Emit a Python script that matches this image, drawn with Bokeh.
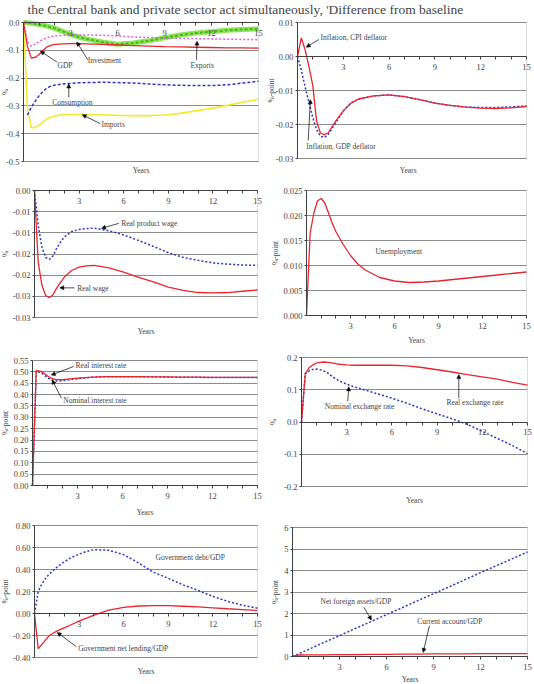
import math
from bokeh.plotting import figure
from bokeh.models import (Range1d, LinearAxis, FixedTicker, Label, Arrow, NormalHead, BoxAnnotation, Grid)
from bokeh.layouts import column, row
from bokeh.embed import file_html
from bokeh.resources import INLINE

FONT = "Liberation Serif"
RED = "#e8262e"
BLUE = "#2d36c4"
PINK = "#e25ce2"
GREEN = "#8ee456"
GREEN_D = "#45b81e"
YELLOW = "#f0ec30"
GRID = "#8c8c8c"
AXIS = "#404040"

TITLE_TEXT = "the Central bank and private sector act simultaneously, 'Difference from baseline"

# ---------------- data ----------------
years = [0, 0.25, 0.5, 0.75, 1, 1.25, 1.5, 1.75, 2, 2.5, 3, 3.5, 4, 5, 6, 7, 8, 9, 10, 11, 12, 13, 14, 15]
x_major = [3, 6, 9, 12, 15]
x_minor = [1, 2, 4, 5, 7, 8, 10, 11, 13, 14]

# Panel 1: demand components, %
gdp = [0, -0.085, -0.128, -0.125, -0.115, -0.100, -0.088, -0.082, -0.079, -0.077, -0.076, -0.076, -0.077,
       -0.079, -0.081, -0.083, -0.085, -0.087, -0.088, -0.089, -0.090, -0.091, -0.091, -0.092]
investment = [0, -0.001, -0.003, -0.005, -0.007, -0.010, -0.013, -0.017, -0.021, -0.032, -0.043, -0.052, -0.059,
              -0.070, -0.078, -0.074, -0.066, -0.055, -0.045, -0.038, -0.033, -0.028, -0.025, -0.023]
exports = [0, -0.070, -0.085, -0.078, -0.068, -0.060, -0.055, -0.051, -0.048, -0.046, -0.045, -0.045, -0.045,
           -0.046, -0.048, -0.052, -0.054, -0.055, -0.057, -0.058, -0.059, -0.060, -0.061, -0.062]
cons_years = years[1:]
consumption = [-0.333, -0.305, -0.283, -0.263, -0.247, -0.236, -0.229, -0.225, -0.221, -0.219, -0.217, -0.216,
               -0.215, -0.216, -0.218, -0.221, -0.224, -0.226, -0.227, -0.227, -0.224, -0.218, -0.211]
imports = [0, -0.310, -0.378, -0.378, -0.368, -0.357, -0.347, -0.340, -0.336, -0.332, -0.331, -0.331, -0.331,
           -0.332, -0.334, -0.335, -0.335, -0.333, -0.327, -0.318, -0.309, -0.298, -0.287, -0.276]
p1_yticks = [0.0, -0.1, -0.2, -0.3, -0.4, -0.5]
p1_ylabels = ["0.0", "-0.1", "-0.2", "-0.3", "-0.4", "-0.5"]

# Panel 2: inflation, %-point
infl_cpi = [0, 0.0055, 0.002, -0.003, -0.0085, -0.019, -0.0225, -0.023, -0.0225, -0.019, -0.016, -0.0137, -0.0125,
            -0.0116, -0.0113, -0.0118, -0.0127, -0.0137, -0.0144, -0.0149, -0.0152, -0.0153, -0.0151, -0.0147]
infl_gdp = [0, -0.004, -0.009, -0.0135, -0.018, -0.0215, -0.0235, -0.0238, -0.023, -0.0195, -0.016, -0.0137, -0.0125,
            -0.0116, -0.0113, -0.0118, -0.0127, -0.0137, -0.0144, -0.0148, -0.0150, -0.0150, -0.0148, -0.0145]
p2_yticks = [0.01, 0.0, -0.01, -0.02, -0.03]
p2_ylabels = ["0.01", "0.00", "-0.01", "-0.02", "-0.03"]

# Panel 3: wages, %
real_wage = [0, -0.0169, -0.0224, -0.0248, -0.0253, -0.0246, -0.0230, -0.0217, -0.0205, -0.0189, -0.0181, -0.0178,
             -0.0177, -0.0183, -0.0193, -0.0205, -0.0216, -0.0228, -0.0236, -0.0241, -0.0242, -0.0241, -0.0238, -0.0235]
real_product_wage = [0, -0.0083, -0.0134, -0.0158, -0.0163, -0.0154, -0.0136, -0.0122, -0.0110, -0.0097, -0.0092,
                     -0.0090, -0.0089, -0.0095, -0.0105, -0.0118, -0.0132, -0.0147, -0.0158, -0.0165, -0.0171,
                     -0.0174, -0.0176, -0.0177]
p3_yticks = [0.0, -0.005, -0.01, -0.015, -0.02, -0.025, -0.03]
p3_ylabels = ["0.00", "-0.01", "-0.01", "-0.02", "-0.02", "-0.03", "-0.03"]

# Panel 4: unemployment, %-point
unemployment = [0, 0.0165, 0.0205, 0.0229, 0.0234, 0.0225, 0.0205, 0.0185, 0.0168, 0.0142, 0.0120, 0.0103, 0.0091,
                0.0076, 0.0069, 0.0066, 0.0067, 0.0069, 0.0072, 0.0075, 0.0078, 0.0081, 0.0084, 0.0087]
p4_yticks = [0.025, 0.02, 0.015, 0.01, 0.005, 0.0]
p4_ylabels = ["0.025", "0.020", "0.015", "0.010", "0.005", "0.000"]

# Panel 5: interest rates, %-point
real_rate = [0, 0.505, 0.503, 0.495, 0.482, 0.472, 0.467, 0.466, 0.466, 0.469, 0.472, 0.475, 0.477,
             0.479, 0.479, 0.479, 0.478, 0.478, 0.477, 0.477, 0.476, 0.476, 0.476, 0.476]
nominal_rate = [0, 0.502, 0.498, 0.488, 0.474, 0.465, 0.460, 0.460, 0.461, 0.466, 0.470, 0.473, 0.476,
                0.479, 0.479, 0.478, 0.478, 0.477, 0.476, 0.476, 0.475, 0.475, 0.475, 0.475]
p5_yticks = [0.55, 0.5, 0.45, 0.4, 0.35, 0.3, 0.25, 0.2, 0.15, 0.1, 0.05, 0.0]
p5_ylabels = ["0.55", "0.50", "0.45", "0.40", "0.35", "0.30", "0.25", "0.20", "0.15", "0.10", "0.05", "0.00"]

# Panel 6: exchange rates, %
real_exch = [0, 0.150, 0.168, 0.177, 0.183, 0.185, 0.186, 0.185, 0.183, 0.179, 0.177, 0.176, 0.176,
             0.176, 0.176, 0.174, 0.169, 0.162, 0.155, 0.147, 0.140, 0.133, 0.123, 0.114]
nominal_exch = [0, 0.150, 0.158, 0.163, 0.164, 0.162, 0.158, 0.152, 0.142, 0.128, 0.117, 0.109, 0.102,
                0.088, 0.074, 0.058, 0.041, 0.025, 0.010, -0.007, -0.029, -0.051, -0.073, -0.098]
p6_yticks = [0.2, 0.1, 0.0, -0.1, -0.2]
p6_ylabels = ["0.2", "0.1", "0.0", "-0.1", "-0.2"]

# Panel 7: government, %-point
gov_debt = [0, 0.20, 0.27, 0.32, 0.36, 0.39, 0.42, 0.445, 0.47, 0.51, 0.54, 0.565, 0.58,
            0.575, 0.535, 0.46, 0.375, 0.32, 0.26, 0.21, 0.155, 0.11, 0.075, 0.048]
gov_lending = [0, -0.32, -0.28, -0.24, -0.20, -0.18, -0.16, -0.145, -0.13, -0.10, -0.07, -0.042, -0.015,
               0.03, 0.055, 0.068, 0.072, 0.072, 0.066, 0.06, 0.052, 0.043, 0.035, 0.027]
p7_yticks = [0.8, 0.6, 0.4, 0.2, 0.0, -0.2, -0.4]
p7_ylabels = ["0.80", "0.60", "0.40", "0.20", "0.00", "-0.20", "-0.40"]

# Panel 8: external, %-point
nfa_years = [0, 1, 2, 3, 4, 5, 6, 7, 8, 9, 10, 11, 12, 13, 14, 15]
nfa = [0, 0.32, 0.65, 0.97, 1.30, 1.62, 1.95, 2.27, 2.60, 2.92, 3.24, 3.57, 3.90, 4.22, 4.54, 4.86]
ca_years = [0, 0.25, 0.5, 1, 2, 3, 4, 5, 6, 7, 8, 9, 10, 11, 12, 13, 14, 15]
current_account = [0, 0.05, 0.07, 0.08, 0.08, 0.09, 0.09, 0.10, 0.10, 0.11, 0.11, 0.12, 0.12, 0.12, 0.13, 0.13, 0.13, 0.13]
p8_yticks = [6, 5, 4, 3, 2, 1, 0]
p8_ylabels = ["6", "5", "4", "3", "2", "1", "0"]

CELL_W = 267
HAS_CROSS = "cross_bounds" in Grid.properties()


# ---------------- helpers ----------------
def panel(cell_h, box, yr, yticks, ylabels, ylabel, ylab_px, years_d, years_x=7.5):
    """box = (left, right, top, bottom) of the plot box in pixels inside the cell.
    The whole cell is the frame; axes sit at x=0 / y=0 inside it."""
    bl, br, bt, bb = box
    ymin, ymax = yr
    ppx = (br - bl) / 15.0
    ppy = (bb - bt) / (ymax - ymin)
    x0 = -bl / ppx
    x1 = 15 + (CELL_W - br) / ppx
    y1 = ymax + bt / ppy
    y0 = ymin - (cell_h - bb) / ppy
    p = figure(width=CELL_W, height=cell_h, x_range=Range1d(x0, x1), y_range=Range1d(y0, y1),
               output_backend="svg", toolbar_location=None, x_axis_type=None, y_axis_type=None,
               min_border=0)
    p.outline_line_color = None

    yt = FixedTicker(ticks=yticks)
    if HAS_CROSS:
        p.add_layout(Grid(dimension=1, ticker=yt, cross_bounds=(0, 15), grid_line_color=GRID, grid_line_width=1))
    else:
        p.multi_line([[0, 15] for _ in yticks], [[t, t] for t in yticks], line_color=GRID, line_width=1)
    p.add_layout(BoxAnnotation(left=0, right=15, bottom=ymin, top=ymax, fill_color=None,
                               line_color=GRID, line_width=1, level="underlay"))

    ya = LinearAxis(fixed_location=0, ticker=yt, bounds=(ymin, ymax),
                    major_label_overrides=dict(zip(yticks, ylabels)),
                    major_label_text_font=FONT, major_label_text_font_size="8.5px",
                    major_label_standoff=2, major_tick_out=2, major_tick_in=0,
                    minor_tick_out=0, minor_tick_in=0,
                    axis_line_color=AXIS, major_tick_line_color=AXIS)
    p.add_layout(ya, "left")
    xa = LinearAxis(fixed_location=0, ticker=FixedTicker(ticks=x_major, minor_ticks=x_minor), bounds=(0, 15),
                    axis_line_color=AXIS, major_tick_line_color=AXIS, minor_tick_line_color=AXIS,
                    major_tick_in=0, major_tick_out=3, minor_tick_in=0, minor_tick_out=3,
                    major_label_text_font=FONT, major_label_text_font_size="8.5px",
                    major_label_standoff=4)
    p.add_layout(xa, "below")

    # y axis title (rotated) and "Years" title, both inside the canvas
    p.add_layout(Label(x=-(bl - ylab_px) / ppx, y=(ymin + ymax) / 2, text=ylabel, angle=math.pi / 2,
                       text_font=FONT, text_font_size="7.5px", text_align="center", text_baseline="middle"))
    p.add_layout(Label(x=years_x, y=ymin - years_d / ppy, text="Years", text_font=FONT,
                       text_font_size="7.5px", text_align="center", text_baseline="middle"))
    return p


def note(p, x, y, text):
    p.add_layout(Label(x=x, y=y, text=text, text_font=FONT, text_font_size="7.5px",
                       text_align="left", text_baseline="middle"))


def arrow(p, x0, y0, x1, y1):
    p.add_layout(Arrow(x_start=x0, y_start=y0, x_end=x1, y_end=y1, line_color="black", line_width=0.7,
                       end=NormalHead(size=4, line_color="black", fill_color="black", line_width=0.5)))


# ---------------- title strip ----------------
TITLE_H = 17
ptitle = figure(width=534, height=TITLE_H, x_range=Range1d(0, 534), y_range=Range1d(0, TITLE_H),
                x_axis_type=None, y_axis_type=None, min_border=0, toolbar_location=None,
                output_backend="svg")
ptitle.outline_line_color = None
ptitle.add_layout(Label(x=27, y=8.5, text=TITLE_TEXT, text_font=FONT, text_font_size="13.5px",
                        text_baseline="middle", text_align="left"))

# ---------------- panel 1 ----------------
p1 = panel(161, (23, 258, 5, 144), (-0.5, 0.0), p1_yticks, p1_ylabels, "%", 4.5, 9)
p1.line(years, investment, line_color=GREEN, line_width=5)
p1.line(years, investment, line_color=GREEN_D, line_width=2, line_dash="3 2")
p1.line(years, exports, line_color=PINK, line_width=1.5, line_dash="2 2")
p1.line(years, imports, line_color=YELLOW, line_width=1.6)
p1.line(cons_years, consumption, line_color=BLUE, line_width=1.5, line_dash="3 2")
p1.line(years, gdp, line_color=RED, line_width=1.3)
note(p1, 2.17, -0.153, "GDP"); arrow(p1, 2.15, -0.143, 1.08, -0.103)
note(p1, 4.1, -0.137, "Investment"); arrow(p1, 4.1, -0.134, 3.4, -0.07)
note(p1, 10.66, -0.155, "Exports"); arrow(p1, 11.04, -0.134, 11.08, -0.067)
note(p1, 1.83, -0.287, "Consumption"); arrow(p1, 2.89, -0.269, 2.89, -0.221)
note(p1, 4.98, -0.368, "Imports"); arrow(p1, 4.91, -0.364, 3.75, -0.332)

# ---------------- panel 2 ----------------
p2 = panel(161, (30, 259, 5, 141), (-0.03, 0.01), p2_yticks, p2_ylabels, "%-point", 4.3, 12, 7.25)
p2.line(years, infl_gdp, line_color=BLUE, line_width=1.5, line_dash="2 2")
p2.line(years, infl_cpi, line_color=RED, line_width=1.3)
note(p2, 1.51, 0.00564, "Inflation, CPI deflator"); arrow(p2, 1.40, 0.005, 0.57, 0.00274)
note(p2, 0.57, -0.0265, "Inflation, GDP deflator"); arrow(p2, 0.70, -0.0247, 0.85, -0.0127)

# ---------------- panel 3 ----------------
p3 = panel(167, (34, 257, 12, 139), (-0.03, 0.0), p3_yticks, p3_ylabels, "%", 4.5, 13.7)
p3.line(years, real_product_wage, line_color=BLUE, line_width=1.5, line_dash="2 2")
p3.line(years, real_wage, line_color=RED, line_width=1.3)
note(p3, 5.83, -0.00776, "Real product wage"); arrow(p3, 5.67, -0.00776, 4.51, -0.00894)
note(p3, 2.87, -0.0232, "Real wage"); arrow(p3, 2.69, -0.023, 1.70, -0.023)

# ---------------- panel 4 ----------------
p4 = panel(167, (39, 259, 12, 137), (0.0, 0.025), p4_yticks, p4_ylabels, "%-point", 8, 25)
p4.line(years, unemployment, line_color=RED, line_width=1.3)
note(p4, 4.7, 0.0128, "Unemployment")

# ---------------- panel 5 ----------------
p5 = panel(173, (32, 257, 15, 140), (0.0, 0.55), p5_yticks, p5_ylabels, "%-point", 4.5, 26.5)
p5.line(years, nominal_rate, line_color=BLUE, line_width=1.5, line_dash="2 2")
p5.line(years, real_rate, line_color=RED, line_width=1.3)
note(p5, 2.87, 0.53, "Real interest rate"); arrow(p5, 2.75, 0.524, 1.25, 0.486)
note(p5, 2.05, 0.374, "Nominal interest rate"); arrow(p5, 1.93, 0.384, 1.31, 0.464)

# ---------------- panel 6 ----------------
p6 = panel(173, (34, 260, 12, 141), (-0.2, 0.2), p6_yticks, p6_ylabels, "%", 5.5, 14)
p6.line(years, nominal_exch, line_color=BLUE, line_width=1.5, line_dash="2 2")
p6.line(years, real_exch, line_color=RED, line_width=1.3)
note(p6, 1.55, 0.049, "Nominal exchange rate"); arrow(p6, 3.07, 0.0645, 3.14, 0.109)
note(p6, 9.62, 0.0605, "Real exchange rate"); arrow(p6, 10.44, 0.0747, 10.44, 0.147)

# ---------------- panel 7 ----------------
p7 = panel(166, (34, 257, 7, 139), (-0.4, 0.8), p7_yticks, p7_ylabels, "%-point", 4.5, 14)
p7.line(years, gov_debt, line_color=BLUE, line_width=1.5, line_dash="2 2")
p7.line(years, gov_lending, line_color=RED, line_width=1.3)
note(p7, 8.14, 0.513, "Government debt/GDP")
note(p7, 2.94, -0.315, "Government net lending/GDP"); arrow(p7, 2.82, -0.302, 1.53, -0.172)

# ---------------- panel 8 ----------------
p8 = panel(166, (25, 260, 9, 138), (0, 6), p8_yticks, p8_ylabels, "%-point", 8, 23)
p8.line(nfa_years, nfa, line_color=BLUE, line_width=1.5, line_dash="2 2")
p8.line(ca_years, current_account, line_color=RED, line_width=1.3)
note(p8, 1.79, 2.57, "Net foreign assets/GDP"); arrow(p8, 4.55, 2.29, 5.04, 1.70)
note(p8, 7.96, 1.62, "Current account/GDP"); arrow(p8, 8.74, 1.43, 8.34, 0.19)

layout = column(ptitle, row(p1, p2), row(p3, p4), row(p5, p6), row(p7, p8))

with open("out.html", "w") as f:
    f.write(file_html(layout, INLINE))
